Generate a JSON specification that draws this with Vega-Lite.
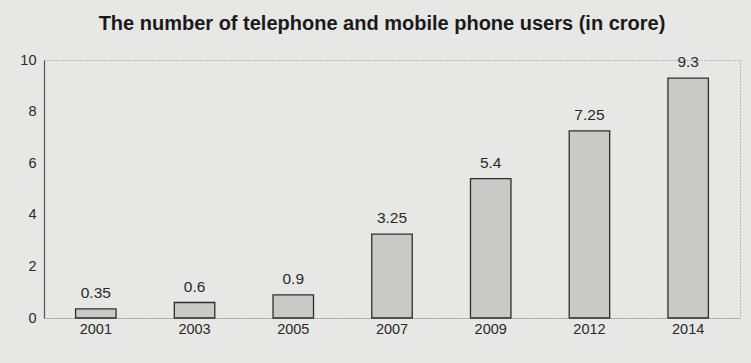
{
  "$schema": "https://vega.github.io/schema/vega-lite/v6.json",
  "width": 696,
  "height": 258,
  "autosize": {"type": "none"},
  "padding": {"left": 44, "top": 60, "right": 11, "bottom": 45},
  "background": "#e7e7e5",
  "title": {
    "text": "The number of telephone and mobile phone users (in crore)",
    "font": "Liberation Sans",
    "fontSize": 20,
    "fontWeight": "bold",
    "color": "#1a1a1a",
    "anchor": "middle",
    "offset": 18,
    "dx": -10
  },
  "config": {
    "view": {"stroke": "#8a8a8a", "strokeDash": [1, 2], "strokeWidth": 1},
    "font": "Liberation Sans"
  },
  "data": {
    "values": [
      {"year": "2001", "users": 0.35, "label": "0.35"},
      {"year": "2003", "users": 0.6, "label": "0.6"},
      {"year": "2005", "users": 0.9, "label": "0.9"},
      {"year": "2007", "users": 3.25, "label": "3.25"},
      {"year": "2009", "users": 5.4, "label": "5.4"},
      {"year": "2012", "users": 7.25, "label": "7.25"},
      {"year": "2014", "users": 9.3, "label": "9.3"}
    ]
  },
  "encoding": {
    "x": {
      "field": "year",
      "type": "ordinal",
      "scale": {"paddingInner": 0.59, "paddingOuter": 0.32},
      "axis": {
        "title": null,
        "labelAngle": 0,
        "labelFontSize": 14.5,
        "labelColor": "#2a2a2a",
        "labelPadding": 4,
        "ticks": false,
        "domainColor": "#8a8a8a",
        "domainDash": [1, 2]
      }
    },
    "y": {
      "field": "users",
      "type": "quantitative",
      "scale": {"domain": [0, 10]},
      "axis": {
        "title": null,
        "values": [0, 2, 4, 6, 8, 10],
        "labelFontSize": 14.5,
        "labelColor": "#2a2a2a",
        "labelPadding": 8,
        "ticks": false,
        "grid": false,
        "domainColor": "#555555",
        "domainWidth": 1.2
      }
    }
  },
  "layer": [
    {
      "mark": {"type": "bar", "fill": "#c9c9c7", "stroke": "#2e2e2e", "strokeWidth": 1.3}
    },
    {
      "mark": {"type": "text", "baseline": "bottom", "dy": -8, "fontSize": 15.5, "color": "#2a2a2a"},
      "encoding": {"text": {"field": "label"}}
    }
  ]
}
